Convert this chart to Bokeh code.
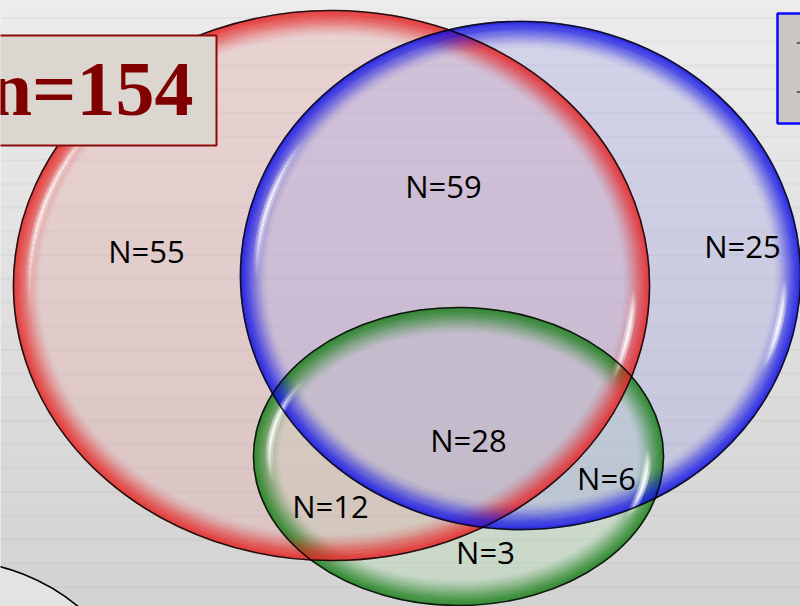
import numpy as np
from bokeh.plotting import figure
from bokeh.models import Range1d
from bokeh.core.properties import value
from bokeh.embed import file_html
from bokeh.resources import INLINE

W, H = 800, 606

# ---- data -------------------------------------------------------------
total_label = "n=154"
region_counts = [55, 59, 25, 28, 6, 12, 3]
region_labels = [f"N={c}" for c in region_counts]
side_labels = ["-", "-"]

# ---- layout (pixel space, y grows downward) ---------------------------
label_x = [146, 443, 742, 468, 606, 330, 485]
label_y = [250, 185, 245, 439, 477, 505, 551]

# drawing order: green (bottom), red, blue
set_cx = [458, 331, 520]
set_cy = [456, 285, 275]
set_rx = [205, 318, 280]
set_ry = [149, 275, 254]
set_fill = ["#afe1af", "#e6a0a0", "#a0a0e6"]
set_fill_alpha = [0.30, 0.33, 0.33]
set_rim = ["#1e801e", "#e62828", "#1414e6"]
streak_ranges = [[(168, 216), (-4, 28)], [(172, 226), (0, 22)], [(178, 216), (0, 24)]]

p = figure(width=W, height=H, output_backend="svg", toolbar_location=None,
           x_axis_type=None, y_axis_type=None,
           x_range=Range1d(0, W), y_range=Range1d(H, 0),
           min_border=0, outline_line_color=None)
p.grid.visible = False
p.background_fill_color = "#e0e0e0"
p.border_fill_color = "#e0e0e0"

# background: vertical gray gradient with faint ruled lines
ys = np.arange(0, H, 2)
shade = 238 - (238 - 209) * ys / H
bg_colors = ["#%02x%02x%02x" % (int(s), int(s), int(s)) for s in shade]
p.quad(left=0, right=W, top=ys, bottom=ys + 2, fill_color=bg_colors, line_color=None)
rule_y = np.arange(17.6, H, 23.7)
p.segment(x0=0, x1=W, y0=rule_y, y1=rule_y, line_color="#8c8c8c",
          line_alpha=0.08, line_width=2)

# partial gray bubble in the lower-left corner
p.circle(x=[-50], y=[760], radius=200, fill_color="#e3e3e3",
         line_color="black", line_width=1.6)

# set fills
for i in range(3):
    p.ellipse(x=set_cx[i], y=set_cy[i], width=2 * set_rx[i], height=2 * set_ry[i],
              fill_color=set_fill[i], fill_alpha=set_fill_alpha[i], line_color=None)

# coloured rims fading inward (overlapping strokes for a smooth ramp)
steps, step = 24, 1.1
k = np.arange(steps)
for i in range(3):
    inset = (k + 0.5) * step
    p.ellipse(x=[set_cx[i]] * steps, y=[set_cy[i]] * steps,
              width=2 * (set_rx[i] - inset), height=2 * (set_ry[i] - inset),
              fill_color=None, line_color=set_rim[i], line_width=2.6 * step,
              line_alpha=0.55 * (1 - k / steps) ** 1.6)

# glossy highlight streaks
def streak(cx, cy, rx, ry, t0, t1, inset, width, peak):
    t = np.radians(np.linspace(t0, t1, 41))
    x = cx + (rx - inset) * np.cos(t)
    y = cy + (ry - inset) * np.sin(t)
    xs = [[x[j], x[j + 1]] for j in range(len(t) - 1)]
    yy = [[y[j], y[j + 1]] for j in range(len(t) - 1)]
    mid = (np.arange(len(t) - 1) + 0.5) / (len(t) - 1)
    alpha = peak * np.sin(np.pi * mid) ** 1.5
    p.multi_line(xs=xs, ys=yy, line_color="white", line_width=width,
                 line_alpha=alpha, line_cap="round")

for i in range(3):
    for (t0, t1) in streak_ranges[i]:
        streak(set_cx[i], set_cy[i], set_rx[i], set_ry[i], t0, t1, 16, 8, 0.18)
        streak(set_cx[i], set_cy[i], set_rx[i], set_ry[i], t0, t1, 16, 3, 0.5)

# dark outlines
for i in range(3):
    p.ellipse(x=set_cx[i], y=set_cy[i], width=2 * set_rx[i], height=2 * set_ry[i],
              fill_color=None, line_color="black", line_width=1.6, line_alpha=0.85)

# region counts
p.text(x=label_x, y=label_y, text=region_labels, text_font=value("Open Sans"),
       text_font_size=value("31px"), text_align="center",
       text_baseline="alphabetic", text_color="black")

# total sample box
p.quad(left=[-10], right=[216], top=[35], bottom=[145], fill_color="#dbd6cf",
       line_color="#8b0a0a", line_width=2)
p.text(x=[193], y=[88], text=[total_label], text_font=value("Liberation Serif"),
       text_font_style="bold", text_font_size=value("78px"), text_align="right",
       text_baseline="alphabetic", text_color="#800000")

# side box on the right edge
p.quad(left=[777], right=[830], top=[13], bottom=[123], fill_color="#cbc7c2",
       line_color="#0a0aff", line_width=2.5)
p.text(x=[795, 795], y=[40, 89], text=side_labels, text_font=value("Open Sans"),
       text_font_size=value("30px"), text_align="left",
       text_baseline="alphabetic", text_color="#666666")

open("out.html", "w").write(file_html(p, INLINE))
